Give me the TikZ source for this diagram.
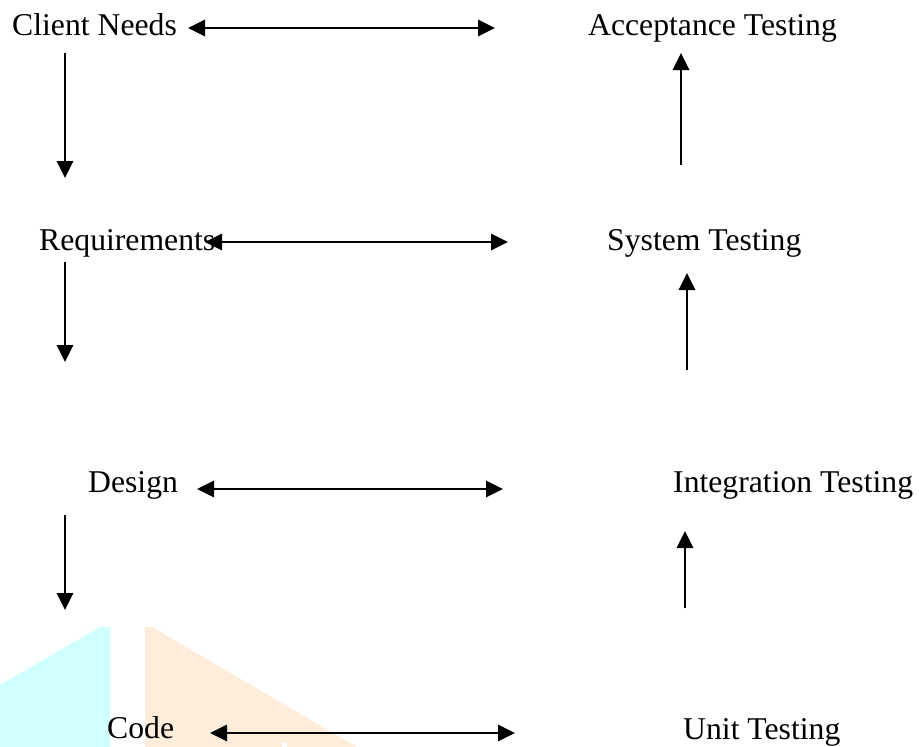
\documentclass[tikz,border=0pt]{standalone}
\usepackage{fontspec}
\setmainfont{Liberation Serif}
\usetikzlibrary{arrows.meta}
\definecolor{paleCyan}{RGB}{208,255,255}
\definecolor{palePeach}{RGB}{255,237,220}
\begin{document}
\begin{tikzpicture}[x=1pt,y=-1pt,
  label/.style={anchor=base west,inner sep=0pt,font=\fontsize{31.7}{38}\selectfont},
  link/.style={line width=2.7pt,-{Triangle[length=17pt,width=16pt]}},
  twoway/.style={line width=2.7pt,{Triangle[length=17pt,width=16pt]}-{Triangle[length=17pt,width=16pt]}}]
\useasboundingbox (0,0) rectangle (919,747);

% pale background shapes at the lower left
\fill[paleCyan] (0,685) -- (100,627) -- (110,627) -- (110,747) -- (0,747) -- cycle;
\fill[palePeach] (145,627) -- (152,627) -- (357,747) -- (145,747) -- cycle;
\fill[white] (282,742) rectangle (287,747);

% development stages (left) and test stages (right)
\node[label] (cn)  at (12,35)   {Client Needs};
\node[label] (req) at (39,250)  {Requirements};
\node[label] (des) at (88,492)  {Design};
\node[label] (cod) at (107,738) {Code};

\node[label] (acc) at (588,35)  {Acceptance Testing};
\node[label] (sys) at (607,250) {System Testing};
\node[label] (int) at (673,492) {Integration Testing};
\node[label] (uni) at (683,739) {Unit Testing};

% connector ends
\coordinate (h1a) at (188,28);  \coordinate (h1b) at (495,28);
\coordinate (h2a) at (205,242); \coordinate (h2b) at (508,242);
\coordinate (h3a) at (197,489); \coordinate (h3b) at (503,489);
\coordinate (h4a) at (210,733); \coordinate (h4b) at (515,733);

\coordinate (d1a) at (65,53);   \coordinate (d1b) at (65,178);
\coordinate (d2a) at (65,262);  \coordinate (d2b) at (65,362);
\coordinate (d3a) at (65,515);  \coordinate (d3b) at (65,610);

\coordinate (u1a) at (681,165); \coordinate (u1b) at (681,53);
\coordinate (u2a) at (687,370); \coordinate (u2b) at (687,273);
\coordinate (u3a) at (685,608); \coordinate (u3b) at (685,531);

% links between matching stages
\draw[twoway] (h1a) -- (h1b);
\draw[twoway] (h2a) -- (h2b);
\draw[twoway] (h3a) -- (h3b);
\draw[twoway] (h4a) -- (h4b);

% development flow downwards
\draw[link] (d1a) -- (d1b);
\draw[link] (d2a) -- (d2b);
\draw[link] (d3a) -- (d3b);

% testing flow upwards
\draw[link] (u1a) -- (u1b);
\draw[link] (u2a) -- (u2b);
\draw[link] (u3a) -- (u3b);
\end{tikzpicture}
\end{document}
